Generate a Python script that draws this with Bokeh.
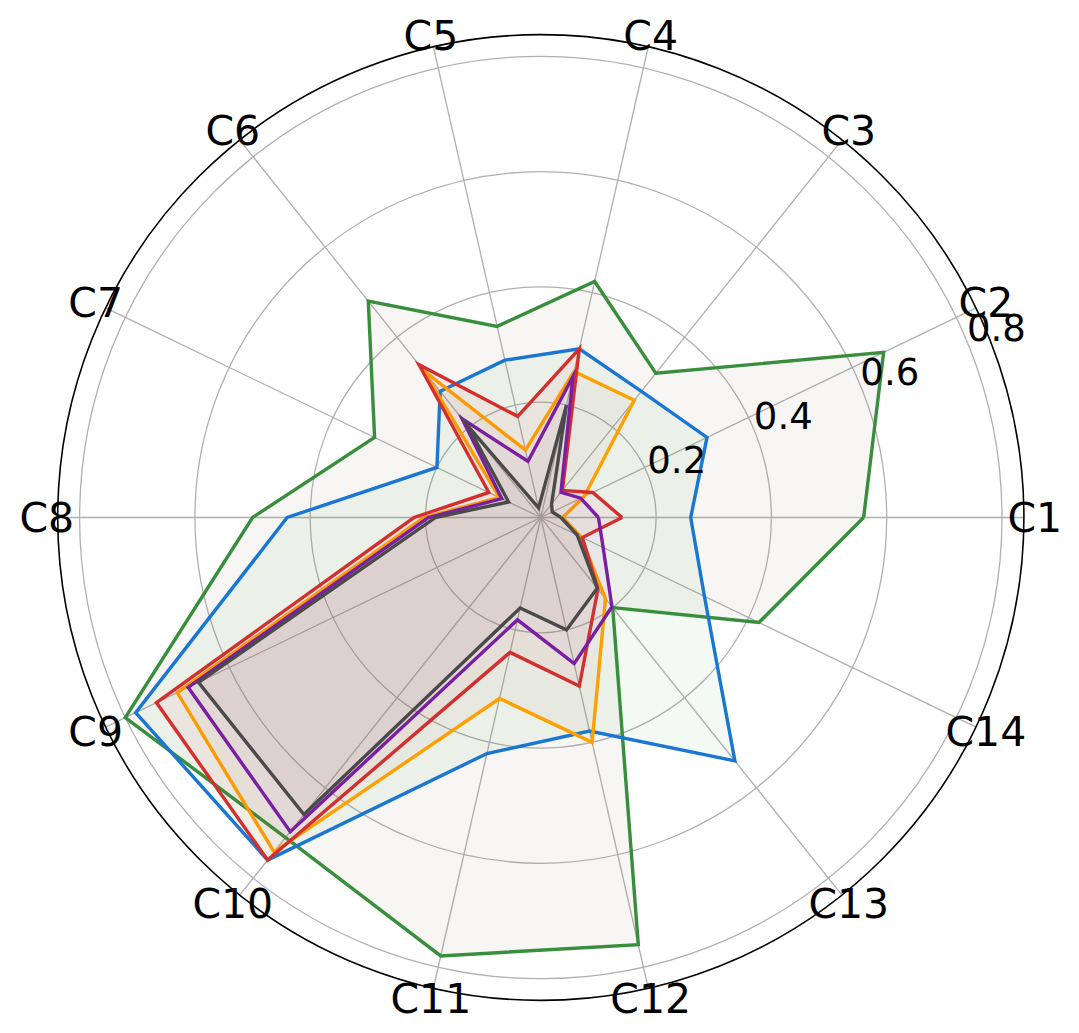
import numpy as np
from bokeh.plotting import figure
from bokeh.models import ColumnDataSource, Range1d
from bokeh.core.properties import value
from bokeh.embed import file_html
from bokeh.resources import INLINE

# ---------------- data ----------------
categories = ["C1", "C2", "C3", "C4", "C5", "C6", "C7", "C8", "C9", "C10", "C11", "C12", "C13", "C14"]
green_vals  = [0.56, 0.66, 0.32, 0.42, 0.34, 0.48, 0.32, 0.50, 0.80, 0.71, 0.78, 0.76, 0.20, 0.42]
blue_vals   = [0.26, 0.32, 0.28, 0.30, 0.28, 0.28, 0.20, 0.44, 0.78, 0.76, 0.42, 0.38, 0.54, 0.315]
orange_vals = [0.038, 0.083, 0.26, 0.26, 0.12, 0.325, 0.08, 0.203, 0.70, 0.742, 0.322, 0.40, 0.18, 0.077]
red_vals    = [0.141, 0.10, 0.06, 0.30, 0.18, 0.339, 0.10, 0.22, 0.74, 0.76, 0.24, 0.30, 0.159, 0.08]
purple_vals = [0.10, 0.077, 0.056, 0.251, 0.10, 0.219, 0.075, 0.195, 0.679, 0.697, 0.182, 0.26, 0.198, 0.12]
gray_vals   = [0.035, 0.022, 0.03, 0.20, 0.017, 0.203, 0.062, 0.183, 0.659, 0.659, 0.161, 0.20, 0.157, 0.07]
radial_ticks = [0.2, 0.4, 0.6, 0.8]
radial_labels = ["0.2", "0.4", "0.6", "0.8"]

series = [
    (green_vals,  "#388E3C", "#958a7c", 0.08),
    (blue_vals,   "#1976D2", "#2ca02c", 0.06),
    (orange_vals, "#FFA000", "#b08060", 0.06),
    (red_vals,    "#D32F2F", "#d62728", 0.05),
    (purple_vals, "#7B1FA2", "#9467bd", 0.05),
    (gray_vals,   "#4A4A4A", "#8c564b", 0.05),
]

# ---------------- geometry ----------------
R_MAX = 0.838
SCALE = 576.5          # px per unit
W, H = 1071, 1025
CX, CY = 540.3, 517.0  # centre in figure pixels (from top-left)

n = len(categories)
theta = np.arange(n) * 2 * np.pi / n

p = figure(width=W, height=H, output_backend="svg", toolbar_location=None,
           min_border=0, outline_line_color=None,
           x_range=Range1d(-CX / SCALE, (W - CX) / SCALE),
           y_range=Range1d(-(H - CY) / SCALE, CY / SCALE))
p.axis.visible = False
p.grid.visible = False
p.background_fill_color = "white"
p.border_fill_color = "white"

# grid circles
for r in radial_ticks:
    p.circle(x=[0], y=[0], radius=r, fill_color=None, line_color="#b0b0b0", line_width=1.3)
# spokes
p.segment(x0=np.zeros(n), y0=np.zeros(n), x1=R_MAX * np.cos(theta), y1=R_MAX * np.sin(theta),
          line_color="#b0b0b0", line_width=1.3)

# series
for vals, lc, fc, fa in series:
    v = np.array(vals)
    xs = v * np.cos(theta)
    ys = v * np.sin(theta)
    p.patch(x=xs, y=ys, fill_color=fc, fill_alpha=fa, line_color=None)
    p.line(x=np.append(xs, xs[0]), y=np.append(ys, ys[0]), line_color=lc, line_width=3.4,
           line_join="miter")

# outer circle
p.circle(x=[0], y=[0], radius=R_MAX, fill_color=None, line_color="black", line_width=1.6)

# category labels
RL = 494 / SCALE
cat_src = ColumnDataSource(dict(x=RL * np.cos(theta), y=RL * np.sin(theta), t=categories))
p.text(x="x", y="y", text="t", source=cat_src, text_align="center", text_baseline="middle",
       text_font=value("DejaVu Sans"), text_font_size="41px", text_color="black")

# radial labels
ang = np.deg2rad(22.5)
rt = np.array(radial_ticks)
rad_src = ColumnDataSource(dict(x=rt * np.cos(ang), y=rt * np.sin(ang), t=radial_labels))
p.text(x="x", y="y", text="t", source=rad_src, text_align="left", text_baseline="bottom",
       text_font=value("DejaVu Sans"), text_font_size="37px", text_color="black")

open("out.html", "w").write(file_html(p, INLINE))
